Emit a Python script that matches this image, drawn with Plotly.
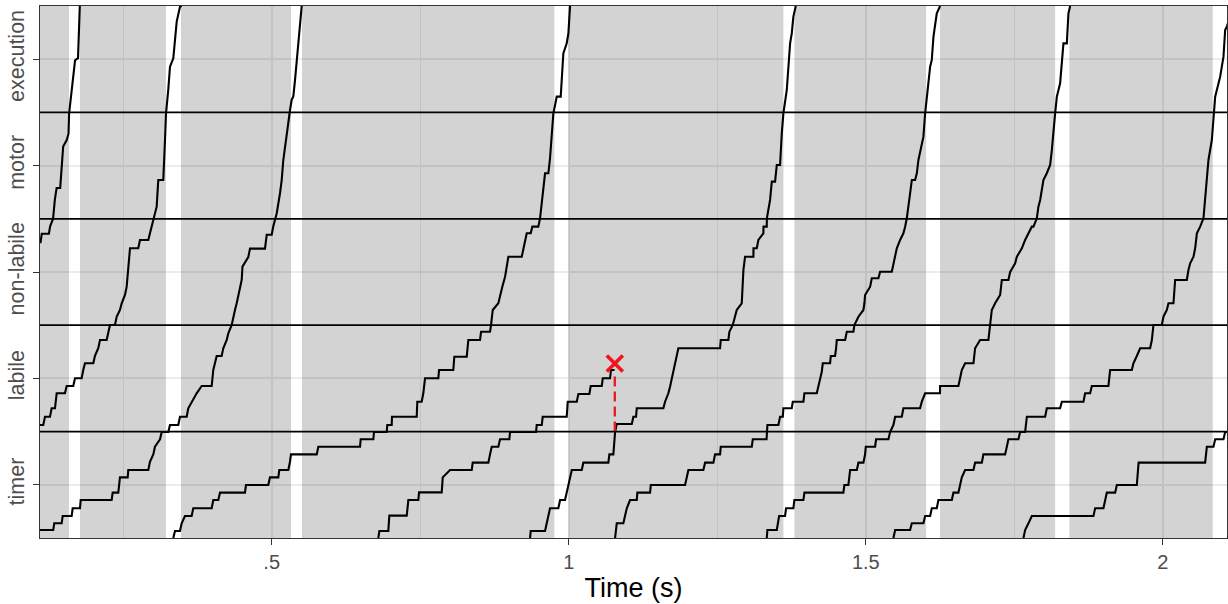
import plotly.graph_objects as go

FONT = "Liberation Sans, Arial, Helvetica, sans-serif"

# ---------------- data ----------------
stage_labels = ["timer", "labile", "non-labile", "motor", "execution"]
stage_centers = [0.5, 1.5, 2.5, 3.5, 4.5]
stage_bounds = [1, 2, 3, 4]
x_ticks = [0.5, 1.0, 1.5, 2.0]
x_ticktext = [".5", "1", "1.5", "2"]
x_minor = [0.25, 0.75, 1.25, 1.75]
y_minor = [0, 1, 2, 3, 4, 5]

# grey spans (between execution stages)
span_start = [0.0, 0.1773, 0.3473, 0.5510, 0.9993, 1.3798, 1.6250, 1.8427]
span_end = [0.1588, 0.3220, 0.5325, 0.9758, 1.3613, 1.6015, 1.8187, 2.0840]

# accumulator walks: (time s, stage level)
walk_1 = [(0.095, 2.78), (0.111, 2.78), (0.113, 2.86), (0.125, 2.86), (0.127, 2.93), (0.132, 3.00),
          (0.135, 3.18), (0.138, 3.29), (0.144, 3.29), (0.147, 3.49), (0.149, 3.68), (0.155, 3.74),
          (0.158, 3.80), (0.159, 3.99), (0.163, 4.18), (0.166, 4.34), (0.169, 4.49), (0.174, 4.51),
          (0.177, 5.00)]
walk_2 = [(0.095, 1.062), (0.1155, 1.062), (0.1184, 1.140), (0.1268, 1.140), (0.1296, 1.219), (0.1352, 1.219),
          (0.1381, 1.360), (0.1520, 1.360), (0.1549, 1.429), (0.1660, 1.429), (0.1689, 1.501), (0.1801, 1.501),
          (0.1828, 1.579), (0.1857, 1.642), (0.1997, 1.642), (0.2025, 1.711), (0.2081, 1.783), (0.2110, 1.861),
          (0.2222, 1.861), (0.2249, 1.924), (0.2278, 2.002), (0.2362, 2.002), (0.2391, 2.080), (0.2446, 2.143),
          (0.2475, 2.206), (0.2530, 2.284), (0.2559, 2.362), (0.2615, 2.723), (0.2754, 2.723), (0.2783, 2.801),
          (0.2923, 2.801), (0.2951, 2.864), (0.2980, 2.926), (0.3007, 2.989), (0.3064, 3.114), (0.3091, 3.365),
          (0.3175, 3.365), (0.3204, 3.741), (0.3221, 3.991), (0.3259, 4.211), (0.3288, 4.430), (0.3344, 4.508),
          (0.3401, 4.853), (0.3457, 4.994), (0.3485, 5.0)]
walk_3 = [(0.095, 0.075), (0.1323, 0.075), (0.1340, 0.138), (0.1465, 0.138), (0.1482, 0.207), (0.1633, 0.207),
          (0.1650, 0.279), (0.1773, 0.279), (0.1785, 0.357), (0.2306, 0.357), (0.2323, 0.426), (0.2418, 0.426),
          (0.2446, 0.570), (0.2576, 0.570), (0.2586, 0.639), (0.2923, 0.639), (0.2951, 0.717), (0.3007, 0.786),
          (0.3035, 0.858), (0.3120, 0.928), (0.3148, 0.996), (0.3259, 0.996), (0.3288, 1.062), (0.3428, 1.062),
          (0.3456, 1.140), (0.3569, 1.140), (0.3596, 1.219), (0.3653, 1.281), (0.3737, 1.360), (0.3822, 1.429),
          (0.3990, 1.429), (0.4017, 1.579), (0.4046, 1.642), (0.4074, 1.711), (0.4158, 1.711), (0.4185, 1.783),
          (0.4243, 1.861), (0.4270, 1.924), (0.4327, 2.002), (0.4354, 2.080), (0.4382, 2.143), (0.4411, 2.206),
          (0.4438, 2.284), (0.4466, 2.362), (0.4495, 2.425), (0.4508, 2.55), (0.4606, 2.64), (0.4635, 2.72),
          (0.4887, 2.72), (0.4916, 2.85), (0.5000, 2.85), (0.5027, 2.93), (0.5056, 2.99), (0.5084, 3.05),
          (0.5140, 3.24), (0.5168, 3.36), (0.5195, 3.55), (0.5224, 3.68), (0.5253, 3.80), (0.5280, 3.93),
          (0.5308, 4.02), (0.5337, 4.12), (0.5364, 4.15), (0.5392, 4.30), (0.5421, 4.49), (0.5477, 4.87),
          (0.5505, 5.0)]
walk_4 = [(0.3344, 0.0), (0.3372, 0.066), (0.3456, 0.066), (0.3485, 0.138), (0.3540, 0.207), (0.3653, 0.207),
          (0.3680, 0.279), (0.3990, 0.279), (0.4017, 0.357), (0.4101, 0.357), (0.4130, 0.426), (0.4550, 0.426),
          (0.4567, 0.498), (0.4943, 0.498), (0.4971, 0.570), (0.5111, 0.570), (0.5128, 0.639), (0.5280, 0.639),
          (0.5308, 0.717), (0.5325, 0.786), (0.5758, 0.786), (0.5785, 0.858), (0.6487, 0.858), (0.6498, 0.928),
          (0.6711, 0.928), (0.6722, 0.996), (0.6936, 0.996), (0.6946, 1.062), (0.7020, 1.062), (0.7025, 1.140),
          (0.7441, 1.140), (0.7451, 1.281), (0.7525, 1.281), (0.7552, 1.360), (0.7581, 1.501), (0.7805, 1.501),
          (0.7817, 1.579), (0.8057, 1.579), (0.8074, 1.704), (0.8283, 1.704), (0.8310, 1.861), (0.8507, 1.861),
          (0.8524, 1.939), (0.8675, 1.939), (0.8692, 2.002), (0.8721, 2.143), (0.8815, 2.206), (0.8844, 2.284),
          (0.8882, 2.362), (0.8928, 2.456), (0.8984, 2.644), (0.9209, 2.644), (0.9236, 2.723), (0.9293, 2.864),
          (0.9360, 2.864), (0.9387, 2.926), (0.9488, 2.926), (0.9517, 3.005), (0.9601, 3.428), (0.9657, 3.428),
          (0.9685, 3.569), (0.9741, 3.991), (0.9770, 4.070), (0.9798, 4.148), (0.9865, 4.148), (0.9909, 4.555),
          (0.9966, 4.649), (0.9994, 4.743), (1.0022, 5.0)]
walk_killed = [(0.6795, 0.0), (0.6812, 0.066), (0.6963, 0.066), (0.6980, 0.210), (0.7273, 0.210), (0.7283, 0.279),
               (0.7300, 0.357), (0.7468, 0.357), (0.7480, 0.429), (0.7862, 0.429), (0.7879, 0.570), (0.8002, 0.639),
               (0.8367, 0.639), (0.8384, 0.708), (0.8647, 0.708), (0.8675, 0.786), (0.8704, 0.858), (0.8815, 0.858),
               (0.8844, 0.928), (0.9000, 0.928), (0.9012, 0.996), (0.9450, 0.996), (0.9461, 1.062), (0.9546, 1.062),
               (0.9562, 1.140), (0.9966, 1.140), (0.9983, 1.281), (1.0135, 1.281), (1.0162, 1.353), (1.0347, 1.353),
               (1.0370, 1.429), (1.0556, 1.429), (1.0573, 1.501), (1.0695, 1.501), (1.0712, 1.579), (1.0771, 1.579)]
walk_5 = [(0.9349, 0.0), (0.9360, 0.066), (0.9601, 0.066), (0.9630, 0.138), (0.9657, 0.207), (0.9685, 0.279),
          (0.9825, 0.279), (0.9854, 0.357), (0.9938, 0.357), (0.9966, 0.429), (1.0022, 0.570), (1.0051, 0.639),
          (1.0219, 0.639), (1.0246, 0.708), (1.0667, 0.708), (1.0684, 0.786), (1.0751, 0.786), (1.0780, 0.996),
          (1.0808, 1.071), (1.1061, 1.071), (1.1088, 1.140), (1.1133, 1.140), (1.1145, 1.219), (1.1593, 1.219),
          (1.1621, 1.281), (1.1677, 1.360), (1.1705, 1.422), (1.1734, 1.501), (1.1761, 1.579), (1.1790, 1.642),
          (1.1845, 1.783), (1.2547, 1.783), (1.2559, 1.861), (1.2687, 1.861), (1.2704, 1.939), (1.2761, 2.002),
          (1.2800, 2.080), (1.2828, 2.143), (1.2912, 2.206), (1.2940, 2.519), (1.2968, 2.644), (1.3108, 2.644),
          (1.3110, 2.723), (1.3165, 2.723), (1.3192, 2.801), (1.3276, 2.864), (1.3278, 2.926), (1.3333, 2.926),
          (1.3335, 3.005), (1.3389, 3.177), (1.3418, 3.349), (1.3473, 3.349), (1.3502, 3.506), (1.3557, 3.506),
          (1.3586, 3.803), (1.3613, 3.991), (1.3670, 4.211), (1.3697, 4.430), (1.3726, 4.649), (1.3754, 4.743),
          (1.3781, 4.900), (1.3822, 5.0)]
walk_6 = [(1.0780, 0.0), (1.0796, 0.075), (1.0808, 0.138), (1.0919, 0.138), (1.0948, 0.200), (1.0977, 0.279),
          (1.1032, 0.357), (1.1145, 0.357), (1.1155, 0.426), (1.1369, 0.426), (1.1381, 0.498), (1.1958, 0.498),
          (1.1987, 0.570), (1.2014, 0.639), (1.2266, 0.639), (1.2295, 0.708), (1.2435, 0.708), (1.2463, 0.786),
          (1.2547, 0.786), (1.2559, 0.858), (1.3081, 0.858), (1.3098, 0.928), (1.3330, 0.928), (1.3333, 0.996),
          (1.3344, 1.062), (1.3529, 1.062), (1.3557, 1.140), (1.3603, 1.140), (1.3613, 1.219), (1.3754, 1.219),
          (1.3771, 1.281), (1.3950, 1.281), (1.3967, 1.360), (1.4175, 1.360), (1.4202, 1.422), (1.4231, 1.501),
          (1.4259, 1.563), (1.4276, 1.642), (1.4399, 1.642), (1.4411, 1.711), (1.4483, 1.711), (1.4500, 1.783),
          (1.4512, 1.861), (1.4652, 1.861), (1.4680, 1.939), (1.4792, 1.939), (1.4808, 2.002), (1.4876, 2.080),
          (1.4960, 2.143), (1.4977, 2.206), (1.4988, 2.284), (1.5073, 2.362), (1.5101, 2.441), (1.5213, 2.441),
          (1.5241, 2.503), (1.5438, 2.503), (1.5465, 2.582), (1.5494, 2.644), (1.5522, 2.723), (1.5578, 2.801),
          (1.5633, 2.864), (1.5662, 2.926), (1.5690, 3.005), (1.5746, 3.239), (1.5775, 3.365), (1.5830, 3.365),
          (1.5859, 3.428), (1.5886, 3.553), (1.5943, 3.710), (1.5970, 3.772), (1.5999, 3.991), (1.6054, 4.273),
          (1.6083, 4.430), (1.6111, 4.493), (1.6139, 4.712), (1.6195, 4.931), (1.6251, 5.0)]
walk_7 = [(1.3333, 0.0), (1.3344, 0.075), (1.3502, 0.075), (1.3519, 0.138), (1.3541, 0.207), (1.3641, 0.207),
          (1.3658, 0.279), (1.3781, 0.279), (1.3798, 0.357), (1.3950, 0.357), (1.3967, 0.426), (1.4623, 0.426),
          (1.4640, 0.498), (1.4707, 0.498), (1.4724, 0.570), (1.4736, 0.639), (1.4849, 0.639), (1.4876, 0.708),
          (1.4960, 0.708), (1.4988, 0.786), (1.5000, 0.858), (1.5157, 0.858), (1.5173, 0.928), (1.5381, 0.928),
          (1.5409, 0.996), (1.5465, 1.062), (1.5494, 1.140), (1.5606, 1.140), (1.5633, 1.219), (1.5914, 1.219),
          (1.5943, 1.281), (1.5999, 1.360), (1.6249, 1.360), (1.6251, 1.429), (1.6559, 1.429), (1.6588, 1.501),
          (1.6616, 1.579), (1.6672, 1.642), (1.6812, 1.642), (1.6840, 1.783), (1.6924, 1.861), (1.7064, 1.861),
          (1.7093, 2.002), (1.7121, 2.143), (1.7177, 2.206), (1.7261, 2.284), (1.7290, 2.425), (1.7401, 2.425),
          (1.7430, 2.500), (1.7514, 2.582), (1.7543, 2.644), (1.7627, 2.723), (1.7682, 2.801), (1.7738, 2.864),
          (1.7795, 2.926), (1.7822, 2.926), (1.7879, 3.005), (1.7906, 3.114), (1.7935, 3.177), (1.7990, 3.365),
          (1.8047, 3.428), (1.8103, 3.506), (1.8132, 3.647), (1.8187, 3.991), (1.8216, 4.148), (1.8271, 4.273),
          (1.8300, 4.492), (1.8327, 4.649), (1.8384, 4.649), (1.8411, 4.931), (1.8440, 5.0)]
walk_8 = [(1.5465, 0.0), (1.5494, 0.075), (1.5746, 0.075), (1.5775, 0.138), (1.5970, 0.138), (1.5999, 0.207),
          (1.6083, 0.207), (1.6111, 0.279), (1.6195, 0.279), (1.6222, 0.357), (1.6448, 0.357), (1.6475, 0.426),
          (1.6559, 0.426), (1.6588, 0.498), (1.6616, 0.570), (1.6672, 0.639), (1.6812, 0.639), (1.6840, 0.708),
          (1.6953, 0.708), (1.6980, 0.786), (1.7345, 0.786), (1.7374, 0.858), (1.7401, 0.928), (1.7569, 0.928),
          (1.7598, 0.996), (1.7682, 0.996), (1.7711, 1.140), (1.8019, 1.140), (1.8047, 1.219), (1.8271, 1.219),
          (1.8300, 1.281), (1.8664, 1.281), (1.8692, 1.360), (1.8776, 1.360), (1.8805, 1.429), (1.9084, 1.429),
          (1.9113, 1.579), (1.9478, 1.579), (1.9505, 1.642), (1.9562, 1.711), (1.9618, 1.783), (1.9786, 1.783),
          (1.9815, 1.861), (1.9842, 2.002), (1.9983, 2.002), (2.0010, 2.080), (2.0067, 2.143), (2.0095, 2.206),
          (2.0179, 2.206), (2.0207, 2.425), (2.0404, 2.425), (2.0431, 2.519), (2.0460, 2.582), (2.0516, 2.644),
          (2.0544, 2.723), (2.0573, 2.864), (2.0628, 2.926), (2.0684, 3.005), (2.0713, 3.177), (2.0741, 3.365),
          (2.0768, 3.553), (2.0825, 3.741), (2.0852, 3.991), (2.0881, 4.148), (2.0965, 4.336), (2.0994, 4.430),
          (2.1021, 4.524), (2.1049, 4.774), (2.1077, 4.805), (2.1167, 4.96)]
walk_9 = [(1.7654, 0.0), (1.7682, 0.075), (1.7738, 0.138), (1.7795, 0.207), (1.8832, 0.207), (1.8861, 0.279),
          (1.9000, 0.279), (1.9029, 0.357), (1.9057, 0.426), (1.9197, 0.426), (1.9226, 0.498), (1.9562, 0.498),
          (1.9589, 0.639), (1.9592, 0.708), (2.0712, 0.708), (2.0741, 0.858), (2.0852, 0.858), (2.0881, 0.928),
          (2.1021, 0.928), (2.1049, 0.996), (2.1167, 0.996)]

walks = [walk_1, walk_2, walk_3, walk_4, walk_killed, walk_5, walk_6, walk_7, walk_8, walk_9]

# reset event (labile accumulator cancelled)
reset_time = 1.0775
reset_level = 1.64
reset_dash_top = 1.56
reset_dash_bottom = 1.0

# ---------------- figure ----------------
fig = go.Figure()

xs, ys = [], []
for s, e in zip(span_start, span_end):
    xs += [s, e, e, s, s, None]
    ys += [0, 0, 5, 5, 0, None]
fig.add_trace(go.Scatter(x=xs, y=ys, mode="lines", fill="toself",
                         fillcolor="rgba(0,0,0,0.172)", line=dict(width=0),
                         hoverinfo="skip", showlegend=False))

for w in walks:
    t, v = zip(*w)
    fig.add_trace(go.Scatter(x=list(t), y=list(v), mode="lines",
                             line=dict(color="black", width=2.1),
                             hoverinfo="skip", showlegend=False))

fig.add_trace(go.Scatter(x=[reset_time, reset_time], y=[reset_dash_bottom, reset_dash_top],
                         mode="lines", line=dict(color="#f0141e", width=2.3, dash="10px,5px"),
                         hoverinfo="skip", showlegend=False))
fig.add_trace(go.Scatter(x=[reset_time], y=[reset_level], mode="markers",
                         marker=dict(symbol="x-thin", size=16,
                                     line=dict(color="#f0141e", width=3.6)),
                         hoverinfo="skip", showlegend=False))

for b in stage_bounds:
    fig.add_shape(type="line", xref="paper", x0=0, x1=1, yref="y", y0=b, y1=b,
                  line=dict(color="black", width=1.8), layer="above")

fig.update_layout(
    width=1228, height=604,
    margin=dict(l=40, r=1, t=6, b=66),
    plot_bgcolor="white", paper_bgcolor="white",
    font=dict(family=FONT),
    showlegend=False,
)
fig.update_xaxes(
    range=[0.110, 2.108], tickvals=x_ticks, ticktext=x_ticktext,
    ticks="outside", ticklen=6, tickwidth=1.2, tickcolor="#333333",
    tickfont=dict(size=20, color="#4d4d4d", family=FONT),
    showgrid=True, gridcolor="#ebebeb", gridwidth=1.5,
    minor=dict(tickvals=x_minor, showgrid=True, gridcolor="#ebebeb", gridwidth=0.8, ticks=""),
    zeroline=False, showline=True, linecolor="#333333", linewidth=1.2, mirror=True,
    title=dict(text="Time (s)", font=dict(size=27, color="black", family=FONT), standoff=6),
)
fig.update_yaxes(
    range=[0, 5], tickvals=stage_centers, ticktext=stage_labels, tickangle=-90,
    ticks="outside", ticklen=6, tickwidth=1.2, tickcolor="#333333",
    tickfont=dict(size=21.5, color="#4d4d4d", family=FONT),
    showgrid=True, gridcolor="#ebebeb", gridwidth=1.5,
    minor=dict(tickvals=y_minor, showgrid=True, gridcolor="#ebebeb", gridwidth=0.8, ticks=""),
    zeroline=False, showline=True, linecolor="#333333", linewidth=1.2, mirror=True,
)

fig.write_html("out.html")
